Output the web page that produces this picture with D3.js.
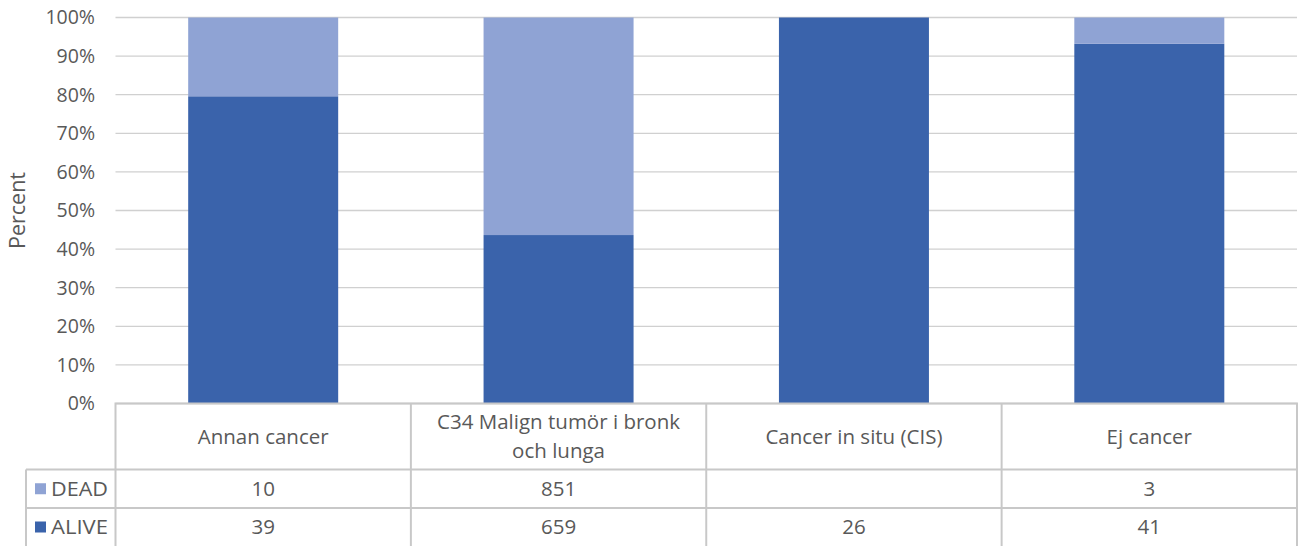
<!DOCTYPE html>
<html><head><meta charset="utf-8">
<script src="https://cdn.jsdelivr.net/npm/d3@7"></script>
<style>body{margin:0;background:#fff;} svg{display:block;font-family:"Open Sans",sans-serif;}</style>
</head><body>
<svg id="c" width="1306" height="546"></svg>
<script>
const categories = ["Annan cancer", "C34 Malign tumör i bronk och lunga", "Cancer in situ (CIS)", "Ej cancer"];
const categoryLines = [["Annan cancer"], ["C34 Malign tumör i bronk", "och lunga"], ["Cancer in situ (CIS)"], ["Ej cancer"]];
const deadValues = [10, 851, null, 3];
const aliveValues = [39, 659, 26, 41];
const seriesNames = ["DEAD", "ALIVE"];
const seriesColors = ["#8FA3D4", "#3A63AB"];
const yTicks = [0, 0.1, 0.2, 0.3, 0.4, 0.5, 0.6, 0.7, 0.8, 0.9, 1.0];

(function () {
const svg = d3.select("#c");
const pLeft = 115.5, pRight = 1297, pTop = 17.5, pBottom = 403.5;
const textCol = "#595959", gridCol = "#D0D0D0", tableCol = "#C8C8C8";
const fs = 20.5;

const x = d3.scaleBand().domain(categories).range([pLeft, pRight]).paddingInner(0).paddingOuter(0);
const y = d3.scaleLinear().domain([0, 1]).range([pBottom, pTop]);

svg.append("g").selectAll("line").data(yTicks).join("line")
  .attr("x1", pLeft).attr("x2", pRight)
  .attr("y1", d => y(d)).attr("y2", d => y(d))
  .attr("stroke", gridCol).attr("stroke-width", 1.3);

svg.append("g").selectAll("text").data(yTicks).join("text")
  .attr("x", 95).attr("y", d => y(d)).attr("dy", "0.35em")
  .attr("text-anchor", "end").attr("fill", textCol).attr("font-size", 19.5)
  .text(d => d3.format(".0%")(d));

svg.append("text").attr("transform", `translate(17,${(pTop+pBottom)/2}) rotate(-90)`)
  .attr("text-anchor", "middle").attr("dy", "0.35em").attr("fill", textCol)
  .attr("font-size", 21.5).text("Percent");

const rows = categories.map((c, i) => ({cat: c, DEAD: deadValues[i] || 0, ALIVE: aliveValues[i] || 0}));
const stackData = d3.stack().keys(["ALIVE", "DEAD"]).offset(d3.stackOffsetExpand)(rows);
const barW = 150;
const colorOf = {DEAD: seriesColors[0], ALIVE: seriesColors[1]};
svg.append("g").selectAll("g").data(stackData).join("g")
  .attr("fill", s => colorOf[s.key])
  .selectAll("rect").data(s => s).join("rect")
  .attr("x", d => x(d.data.cat) + x.bandwidth()/2 - barW/2)
  .attr("width", barW)
  .attr("y", d => y(d[1]))
  .attr("height", d => Math.max(0, y(d[0]) - y(d[1])));

const legendLeft = 26;
const rowY = [403.5, 469.5, 508, 546];
const tg = svg.append("g");
const lineAttr = sel => sel.attr("stroke", tableCol).attr("stroke-width", 2).attr("fill", "none");
tg.append("path").call(lineAttr)
  .attr("d", `M${pLeft},${rowY[3]+2} V${rowY[0]} H${pRight} V${rowY[3]+2}`);
[1, 2].forEach(r => tg.append("line").call(lineAttr)
  .attr("x1", legendLeft).attr("x2", pRight).attr("y1", rowY[r]).attr("y2", rowY[r]));
tg.append("line").call(lineAttr).attr("x1", legendLeft).attr("x2", legendLeft).attr("y1", rowY[1]).attr("y2", rowY[3]+2);
categories.slice(1).forEach(c => tg.append("line").call(lineAttr)
  .attr("x1", x(c)).attr("x2", x(c)).attr("y1", rowY[0]).attr("y2", rowY[3]+2));

categories.forEach((c, i) => {
  const lines = categoryLines[i];
  const cy = (rowY[0] + rowY[1]) / 2;
  const lh = 29;
  lines.forEach((ln, j) => {
    tg.append("text").attr("x", x(c) + x.bandwidth()/2)
      .attr("y", cy + (j - (lines.length - 1) / 2) * lh).attr("dy", "0.35em")
      .attr("text-anchor", "middle").attr("fill", textCol).attr("font-size", fs).text(ln);
  });
});

const seriesVals = [deadValues, aliveValues];
seriesNames.forEach((name, r) => {
  const cy = (rowY[r+1] + rowY[r+2]) / 2;
  tg.append("rect").attr("x", 35).attr("y", cy - 5.5).attr("width", 11).attr("height", 11).attr("fill", seriesColors[r]);
  tg.append("text").attr("x", 51).attr("y", cy).attr("dy", "0.35em").attr("fill", textCol)
    .attr("font-size", fs).attr("textLength", 57).attr("lengthAdjust", "spacingAndGlyphs").text(name);
  categories.forEach((c, i) => {
    const v = seriesVals[r][i];
    if (v == null) return;
    tg.append("text").attr("x", x(c) + x.bandwidth()/2).attr("y", cy).attr("dy", "0.35em")
      .attr("text-anchor", "middle").attr("fill", textCol).attr("font-size", fs).text(v);
  });
});
})();
</script>
</body></html>
